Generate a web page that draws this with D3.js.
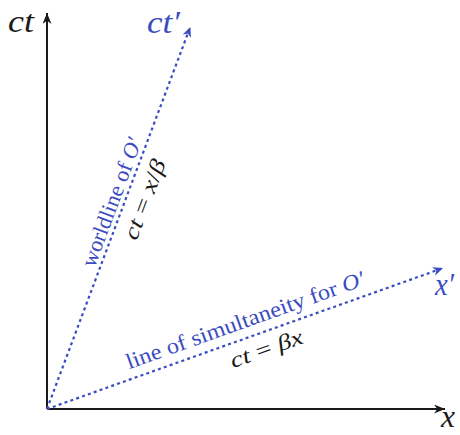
<!DOCTYPE html>
<html><head><meta charset="utf-8">
<script src="https://cdn.jsdelivr.net/npm/d3@7"></script>
<style>html,body{margin:0;padding:0;background:#fff;}
text{font-family:"Liberation Serif","Times New Roman",Tinos,"Nimbus Roman","DejaVu Serif","Noto Serif",FreeSerif,serif;}</style>
</head><body>
<svg id="c" width="460" height="435"></svg>
<script>
// ---- data ----
const axisNames = ["x", "ct"];
const axisMax = [1.0, 0.995];              // x max, ct max
const primeNames = ["ct′", "x′"];
const worldlineEnd = [0.360, 0.960];        // [x, ct] tip of ct' axis  (ct = x/β)
const simultEnd = [0.995, 0.354];           // [x, ct] tip of x' axis   (ct = βx)
const lineLabels = ["worldline of ", "line of simultaneity for "];
const eqLabels = [["ct", " = ", "x", "/", "β"], ["ct", " = ", "β", "x", ""]];

// ---- drawing ----
const svg = d3.select("#c");
const X = d3.scaleLinear().domain([0, 1]).range([47, 445]);
const Y = d3.scaleLinear().domain([0, 1]).range([409, 11]);
const BLUE = "#3b4cc0", BLACK = "#1a1a1a";

const defs = svg.append("defs");
function marker(id, color, len, wid) {
  defs.append("marker").attr("id", id)
    .attr("markerUnits", "userSpaceOnUse")
    .attr("viewBox", `0 0 ${len} ${wid}`)
    .attr("markerWidth", len).attr("markerHeight", wid)
    .attr("refX", len).attr("refY", wid / 2)
    .attr("orient", "auto")
    .append("path")
    .attr("d", `M0,0 L${len},${wid/2} L0,${wid} L${len*0.3},${wid/2} Z`)
    .attr("fill", color);
}
marker("ak", BLACK, 11, 9);
marker("ab", BLUE, 10, 9);

// axes
svg.append("line").attr("x1", X(0)).attr("y1", Y(0)).attr("x2", X(axisMax[0])).attr("y2", Y(0))
  .attr("stroke", BLACK).attr("stroke-width", 2).attr("marker-end", "url(#ak)");
svg.append("line").attr("x1", X(0)).attr("y1", Y(0)).attr("x2", X(0)).attr("y2", Y(axisMax[1]))
  .attr("stroke", BLACK).attr("stroke-width", 2).attr("marker-end", "url(#ak)");

// primed axes
const ends = [worldlineEnd, simultEnd];
ends.forEach(e => {
  svg.append("line").attr("x1", X(0)).attr("y1", Y(0)).attr("x2", X(e[0])).attr("y2", Y(e[1]))
    .attr("stroke", BLUE).attr("stroke-width", 2.2).attr("stroke-dasharray", "3,3.2")
    .attr("marker-end", "url(#ab)");
});

// axis labels
function mathLabel(txt, x, y, color, len) {
  svg.append("text").attr("x", x).attr("y", y)
    .attr("font-style", "italic").attr("font-size", 32).attr("fill", color)
    .attr("textLength", len).attr("lengthAdjust", "spacingAndGlyphs").text(txt);
}
mathLabel(axisNames[1], 8, 32, BLACK, 26);
mathLabel(axisNames[0], 441, 427, BLACK, 14);
mathLabel(primeNames[0], 147, 33, BLUE, 33);
mathLabel(primeNames[1], 435, 295, BLUE, 19);

// labels along lines
function along(e, t, off, build) {
  const x0 = X(0), y0 = Y(0), x1 = X(e[0]), y1 = Y(e[1]);
  const dx = x1 - x0, dy = y1 - y0;
  const ang = Math.atan2(dy, dx) * 180 / Math.PI;
  const px = x0 + dx * t, py = y0 + dy * t;
  const g = svg.append("g").attr("transform", `translate(${px},${py}) rotate(${ang})`);
  const tx = g.append("text").attr("x", 0).attr("y", off).attr("text-anchor", "middle");
  build(tx);
}
function blueLabel(s, len) {
  return tx => {
    tx.attr("fill", BLUE).attr("font-size", 22)
      .attr("textLength", len).attr("lengthAdjust", "spacingAndGlyphs");
    tx.append("tspan").text(s);
    tx.append("tspan").attr("font-style", "italic").text("O′");
  };
}
function eqLabel(parts, len) {
  return tx => {
    tx.attr("fill", BLACK).attr("font-size", 22)
      .attr("textLength", len).attr("lengthAdjust", "spacingAndGlyphs");
    parts.forEach(p => {
      if (!p) return;
      const up = (p.trim() === "=" || p === "/");
      tx.append("tspan").attr("font-style", up ? "normal" : "italic").text(p);
    });
  };
}
along(worldlineEnd, 0.53, -5, blueLabel(lineLabels[0], 136));
along(worldlineEnd, 0.565, 25, eqLabel(eqLabels[0], 84));
along(simultEnd, 0.515, -10, blueLabel(lineLabels[1], 252));
along(simultEnd, 0.54, 24, eqLabel(eqLabels[1], 76));
</script>
</body></html>
